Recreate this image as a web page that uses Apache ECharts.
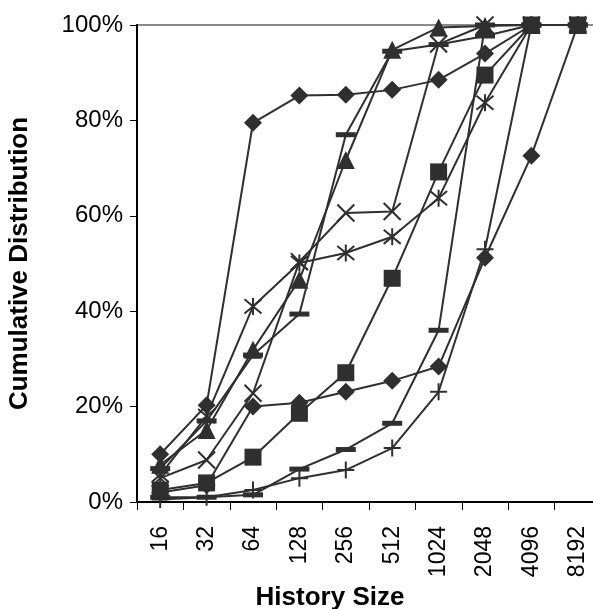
<!DOCTYPE html>
<html>
<head>
<meta charset="utf-8">
<script src="https://cdn.jsdelivr.net/npm/echarts@6/dist/echarts.min.js"></script>
<style>
html,body{margin:0;padding:0;background:#fff;}
#chart{width:593px;height:609px;}
</style>
</head>
<body>
<div id="chart"></div>
<script>
const categories = ['16','32','64','128','256','512','1024','2048','4096','8192'];
const yTicks = [0, 20, 40, 60, 80, 100];

const diamondHigh = [10, 20.3, 79.5, 85.2, 85.4, 86.4, 88.5, 94, 100, 100];
const squareVals  = [2.5, 4, 9.4, 18.6, 27.1, 46.9, 69.2, 89.5, 100, 100];
const triangleVals= [7.8, 15.1, 31.9, 46.6, 71.7, 94.8, 99.5, 99.8, 100, 100];
const crossVals   = [5, 8.8, 22.8, 50.4, 60.6, 60.9, 96, 100, 100, 100];
const starVals    = [5.7, 18, 41, 50.1, 52.2, 55.6, 63.7, 83.7, 100, 100];
const dashHigh    = [7, 17, 30.8, 39.4, 77, 94.5, 95.9, 97.7, 100, 100];
const plusVals    = [0.5, 1, 2.5, 5, 6.7, 11.3, 23.1, 53, 100, 100];
const diamondLow  = [2, 3.5, 20, 20.8, 23.1, 25.4, 28.4, 51.2, 72.6, 100];
const dashLow     = [1, 1, 1.5, 6.9, 11, 16.5, 36, 100, 100, 100];

const ink = '#2f2f2f';
const FONT = 'Liberation Sans, Arial, sans-serif';

const X_PATH = 'path://M0,0L10,10M10,0L0,10';
const STAR_PATH = 'path://M0,0L10,10M10,0L0,10M5,-1L5,11';
const PLUS_PATH = 'path://M5,0L5,10M0,5L10,5';

function filled(name, data, symbol, size) {
  return {
    name, type: 'line', data, symbol, symbolSize: size,
    lineStyle: {color: ink, width: 2},
    itemStyle: {color: ink, borderWidth: 0},
    emphasis: {disabled: true},
    animation: false
  };
}
function stroked(name, data, symbol, size) {
  return {
    name, type: 'line', data, symbol, symbolSize: size,
    lineStyle: {color: ink, width: 2},
    itemStyle: {color: 'rgba(0,0,0,0)', borderColor: ink, borderWidth: 2},
    emphasis: {disabled: true},
    animation: false
  };
}

const chart = echarts.init(document.getElementById('chart'), null, {renderer: 'canvas'});
chart.setOption({
  backgroundColor: '#fff',
  animation: false,
  grid: {
    left: 137, top: 25, width: 464, bottom: 107,
    outerBoundsMode: 'none',
    containLabel: false,
    show: true, borderColor: '#8a8a8a', borderWidth: 2, backgroundColor: 'transparent'
  },
  xAxis: {
    type: 'category',
    data: categories,
    boundaryGap: true,
    name: 'History Size',
    nameLocation: 'middle',
    nameGap: 80,
    nameTextStyle: {fontFamily: FONT, fontSize: 26, fontWeight: 'bold', color: '#000', padding: [0, 78, 0, 0]},
    axisLine: {lineStyle: {color: '#000', width: 2}},
    axisTick: {show: true, alignWithLabel: false, length: 8, lineStyle: {color: '#000', width: 1}},
    axisLabel: {rotate: 90, margin: 24, fontFamily: FONT, fontSize: 23, color: '#000'},
    splitLine: {show: false}
  },
  yAxis: {
    type: 'value',
    min: yTicks[0], max: yTicks[yTicks.length - 1], interval: 20,
    name: 'Cumulative Distribution',
    nameLocation: 'middle',
    nameGap: 104,
    nameRotate: 90,
    nameTextStyle: {fontFamily: FONT, fontSize: 26, fontWeight: 'bold', color: '#000'},
    axisLine: {show: true, lineStyle: {color: '#000', width: 2}},
    axisTick: {show: true, length: 7, lineStyle: {color: '#000', width: 1}},
    axisLabel: {formatter: '{value}%', margin: 14, fontFamily: FONT, fontSize: 24, color: '#000'},
    splitLine: {show: false}
  },
  series: [
    filled('diamondLow', diamondLow, 'diamond', 18),
    filled('dashLow', dashLow, 'rect', [20, 5]),
    stroked('plus', plusVals, PLUS_PATH, 17),
    filled('square', squareVals, 'rect', 17),
    stroked('star', starVals, STAR_PATH, 17),
    stroked('cross', crossVals, X_PATH, 17),
    filled('dashHigh', dashHigh, 'rect', [20, 5]),
    filled('triangle', triangleVals, 'triangle', 18),
    filled('diamondHigh', diamondHigh, 'diamond', 18)
  ]
});
</script>
</body>
</html>
